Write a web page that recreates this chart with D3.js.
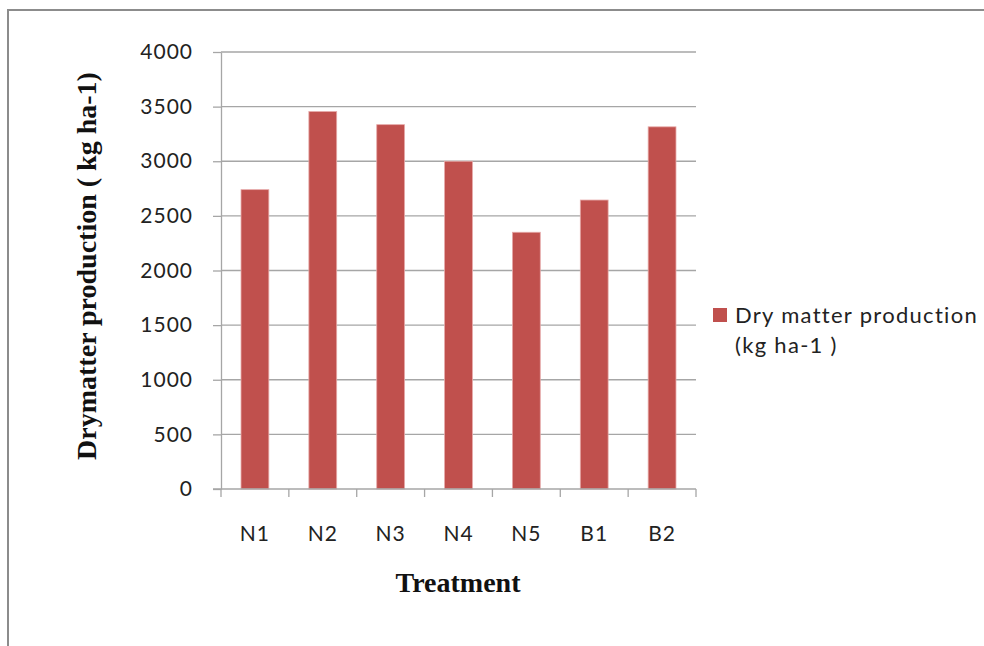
<!DOCTYPE html>
<html>
<head>
<meta charset="utf-8">
<script src="https://cdn.jsdelivr.net/npm/d3@7"></script>
<style>
  html, body { margin: 0; padding: 0; background: #fff; }
  svg { display: block; }
</style>
</head>
<body>
<svg id="chart" width="984" height="646"></svg>
<script>
// Dry matter production by treatment
const categories = ["N1", "N2", "N3", "N4", "N5", "B1", "B2"];
const dryMatter = [2740, 3455, 3335, 3000, 2350, 2645, 3315];
const yTicks = [0, 500, 1000, 1500, 2000, 2500, 3000, 3500, 4000];
const seriesName = ["Dry matter production", "(kg ha-1 )"];
const yTitle = "Drymatter production ( kg ha-1)";
const xTitle = "Treatment";

const svg = d3.select("#chart");
const labelFont = "Lato, 'Open Sans', sans-serif";
const titleFont = "'Liberation Serif', 'Times New Roman', serif";

// outer frame
svg.append("rect")
  .attr("x", 8).attr("y", 10)
  .attr("width", 1000).attr("height", 700)
  .attr("fill", "none")
  .attr("stroke", "#8c8c8c")
  .attr("stroke-width", 2);

const plot = { left: 221, right: 696, top: 52, bottom: 489 };

const x = d3.scaleBand()
  .domain(categories)
  .range([plot.left, plot.right])
  .paddingInner(0.59)
  .paddingOuter(0.295);

const y = d3.scaleLinear()
  .domain([0, 4000])
  .range([plot.bottom, plot.top]);

// horizontal gridlines
svg.append("g")
  .selectAll("line")
  .data(yTicks.filter(d => d > 0))
  .join("line")
  .attr("x1", plot.left).attr("x2", plot.right)
  .attr("y1", d => y(d)).attr("y2", d => y(d))
  .attr("stroke", "#a6a6a6")
  .attr("stroke-width", 1.3);

// bars
svg.append("g")
  .selectAll("rect")
  .data(categories.map((c, i) => ({ c, v: dryMatter[i] })))
  .join("rect")
  .attr("x", d => x(d.c))
  .attr("y", d => y(d.v))
  .attr("width", x.bandwidth())
  .attr("height", d => y(0) - y(d.v))
  .attr("fill", "#c0504d")
  .attr("stroke", "#e6a9a8")
  .attr("stroke-width", 0.8);

// y axis
const yAxis = svg.append("g")
  .attr("transform", `translate(${plot.left},0)`)
  .call(d3.axisLeft(y).tickValues(yTicks).tickFormat(d3.format("d"))
    .tickSize(8).tickPadding(20).tickSizeOuter(0));
yAxis.select(".domain").attr("stroke", "#a6a6a6").attr("stroke-width", 1.3);
yAxis.selectAll(".tick line").attr("stroke", "#a6a6a6").attr("stroke-width", 1.3);
yAxis.selectAll(".tick text")
  .attr("font-family", labelFont)
  .attr("font-size", 21)
  .attr("letter-spacing", 1)
  .attr("fill", "#222");

// x axis with ticks at band boundaries
const xAxisG = svg.append("g").attr("transform", `translate(0,${plot.bottom})`);
xAxisG.append("line")
  .attr("x1", plot.left - 8).attr("x2", plot.right)
  .attr("stroke", "#a6a6a6").attr("stroke-width", 1.3);
const boundaries = categories.map(c => x(c) - x.step() * x.paddingInner() / 2).concat([plot.right]);
xAxisG.selectAll("line.tick")
  .data(boundaries)
  .join("line")
  .attr("class", "tick")
  .attr("x1", d => d).attr("x2", d => d)
  .attr("y1", 0).attr("y2", 8)
  .attr("stroke", "#a6a6a6").attr("stroke-width", 1.3);
xAxisG.selectAll("text")
  .data(categories)
  .join("text")
  .attr("x", d => x(d) + x.bandwidth() / 2)
  .attr("y", 52)
  .attr("text-anchor", "middle")
  .attr("font-family", labelFont)
  .attr("font-size", 21)
  .attr("letter-spacing", 1)
  .attr("fill", "#222")
  .text(d => d);

// axis titles
svg.append("text")
  .attr("transform", `translate(96,266) rotate(-90)`)
  .attr("text-anchor", "middle")
  .attr("font-family", titleFont)
  .attr("font-weight", "bold")
  .attr("font-size", 28)
  .attr("fill", "#111")
  .text(yTitle);

svg.append("text")
  .attr("x", 458).attr("y", 592)
  .attr("text-anchor", "middle")
  .attr("font-family", titleFont)
  .attr("font-weight", "bold")
  .attr("font-size", 28)
  .attr("fill", "#111")
  .text(xTitle);

// legend
const legend = svg.append("g");
legend.append("rect")
  .attr("x", 713).attr("y", 308)
  .attr("width", 14).attr("height", 14)
  .attr("fill", "#c0504d");
legend.selectAll("text")
  .data(seriesName)
  .join("text")
  .attr("x", 735)
  .attr("y", (d, i) => 323 + i * 30)
  .attr("font-family", labelFont)
  .attr("font-size", 22)
  .attr("letter-spacing", 1.3)
  .attr("fill", "#222")
  .text(d => d);
</script>
</body>
</html>
